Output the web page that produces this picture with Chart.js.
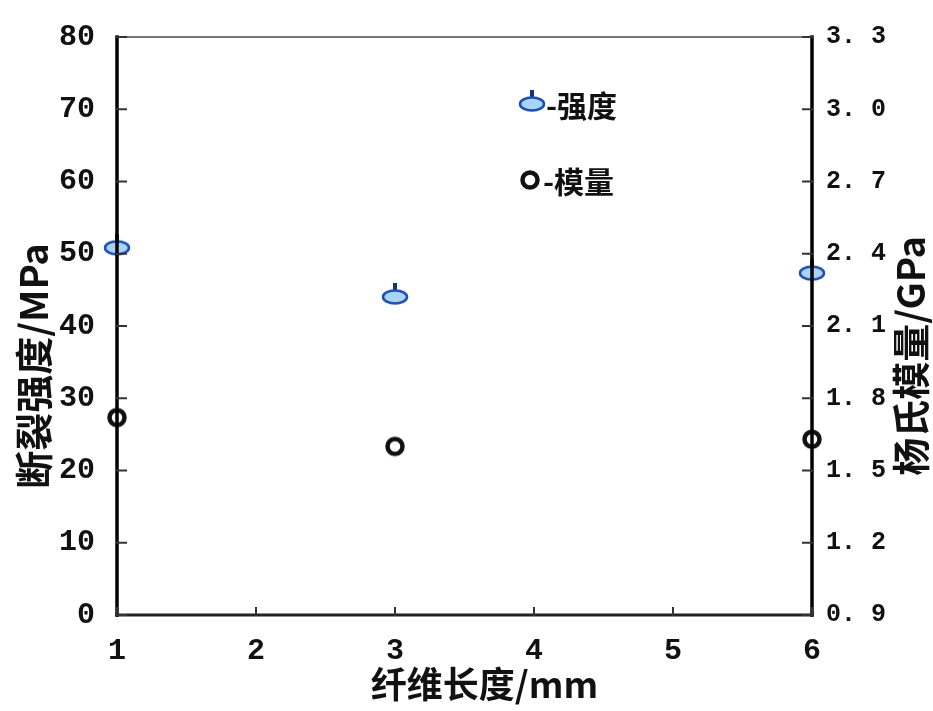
<!DOCTYPE html>
<html><head><meta charset="utf-8">
<script src="https://cdn.jsdelivr.net/npm/chart.js@4"></script>
<style>html,body{margin:0;padding:0;background:#fff}#wrap{width:933px;height:711px}</style>
</head><body><div id="wrap"><canvas id="c" width="933" height="711"></canvas></div>
<script>
const fiberLength = [1, 3, 6];
const strengthMPa = [51.1, 44.3, 47.6];
const modulusGPa = [1.72, 1.60, 1.63];
const xTicks = [1, 2, 3, 4, 5, 6];
const leftTicks = [0, 10, 20, 30, 40, 50, 60, 70, 80];
const rightTicks = [0.9, 1.2, 1.5, 1.8, 2.1, 2.4, 2.7, 3.0, 3.3];
const xTitle = '纤维长度/mm';
const leftTitle = '断裂强度/MPa';
const rightTitle = '杨氏模量/GPa';
const legendLabels = ['-强度', '-模量'];

function strengthMarker(){
  const c = document.createElement('canvas'); c.width = 30; c.height = 28;
  const g = c.getContext('2d');
  g.fillStyle = '#1b2f6e'; g.fillRect(13, 2, 4, 10);
  g.beginPath(); g.ellipse(15, 16, 12, 6.5, 0, 0, Math.PI*2);
  g.fillStyle = '#a8d4f7'; g.fill(); g.lineWidth = 2.5; g.strokeStyle = '#1d4fb0'; g.stroke();
  return c;
}
function modulusMarker(){
  const c = document.createElement('canvas'); c.width = 26; c.height = 26;
  const g = c.getContext('2d');
  g.beginPath(); g.arc(13, 13, 7.5, 0, Math.PI*2);
  g.fillStyle = '#fff'; g.fill(); g.lineWidth = 4.5; g.strokeStyle = '#111'; g.stroke();
  return c;
}
const mS = strengthMarker(), mM = modulusMarker();

const tickFont = {family: '"Liberation Mono", "DejaVu Sans Mono", monospace', size: 30, weight: 'bold'};
const titleFont = 'bold 36px "Noto Sans CJK SC", sans-serif';
const vTitleFont = 'bold 38px "Noto Sans CJK SC", sans-serif';

const decor = {
  id: 'decor',
  afterDraw(chart){
    const {ctx, chartArea: a, scales} = chart;
    ctx.save();
    ctx.lineCap = 'square';
    ctx.strokeStyle = '#777'; ctx.lineWidth = 2;
    ctx.beginPath(); ctx.moveTo(a.left, a.top); ctx.lineTo(a.right, a.top); ctx.stroke();
    ctx.strokeStyle = '#222'; ctx.lineWidth = 3;
    ctx.beginPath(); ctx.moveTo(a.left, a.bottom); ctx.lineTo(a.right, a.bottom); ctx.stroke();
    ctx.strokeStyle = '#000'; ctx.lineWidth = 3.5;
    ctx.beginPath(); ctx.moveTo(a.left, a.top); ctx.lineTo(a.left, a.bottom); ctx.stroke();
    ctx.beginPath(); ctx.moveTo(a.right, a.top); ctx.lineTo(a.right, a.bottom); ctx.stroke();
    ctx.lineWidth = 2; ctx.strokeStyle = '#333';
    scales.y.ticks.forEach(t => { const y = scales.y.getPixelForValue(t.value);
      ctx.beginPath(); ctx.moveTo(a.left, y); ctx.lineTo(a.left + 9, y); ctx.stroke(); });
    scales.y2.ticks.forEach(t => { const y = scales.y2.getPixelForValue(t.value);
      ctx.beginPath(); ctx.moveTo(a.right, y); ctx.lineTo(a.right - 9, y); ctx.stroke(); });
    scales.x.ticks.forEach(t => { const x = scales.x.getPixelForValue(t.value);
      ctx.beginPath(); ctx.moveTo(x, a.bottom); ctx.lineTo(x, a.bottom - 7); ctx.stroke(); });
    ctx.fillStyle = '#111'; ctx.font = titleFont; ctx.textAlign = 'center'; ctx.textBaseline = 'middle';
    ctx.fillText(xTitle, (a.left + a.right) / 2 + 20, 684);
    ctx.font = vTitleFont;
    ctx.save(); ctx.translate(34, 366); ctx.rotate(-Math.PI/2); ctx.fillText(leftTitle, 0, 0); ctx.restore();
    ctx.save(); ctx.translate(911, 356); ctx.rotate(-Math.PI/2); ctx.fillText(rightTitle, 0, 0); ctx.restore();
    ctx.font = 'bold 30px "Noto Sans CJK SC", sans-serif'; ctx.textAlign = 'left';
    ctx.drawImage(mS, 532 - 15, 104 - 16);
    ctx.fillText(legendLabels[0], 546, 106);
    ctx.drawImage(mM, 530 - 13, 180 - 13);
    ctx.fillText(legendLabels[1], 543, 182);
    ctx.restore();
  }
};

new Chart(document.getElementById('c'), {
  type: 'scatter',
  data: {
    datasets: [
      {label: '强度', data: fiberLength.map((x, i) => ({x, y: strengthMPa[i]})), yAxisID: 'y',
       pointStyle: mS, pointRadius: 13, showLine: false},
      {label: '模量', data: fiberLength.map((x, i) => ({x, y: modulusGPa[i]})), yAxisID: 'y2',
       pointStyle: mM, pointRadius: 13, showLine: false}
    ]
  },
  options: {
    responsive: false, animation: false,
    layout: {padding: {top: 37, left: 0, right: 0, bottom: 0}},
    plugins: {legend: {display: false}, tooltip: {enabled: false}},
    clip: false,
    scales: {
      x: {type: 'linear', min: 1, max: 6,
          afterBuildTicks: s => { s.ticks = xTicks.map(v => ({value: v})); },
          afterFit: s => { s.height = 96; },
          grid: {display: false}, border: {display: false},
          ticks: {font: tickFont, color: '#111', padding: 10, maxRotation: 0}},
      y: {type: 'linear', position: 'left', min: 0, max: 80,
          afterBuildTicks: s => { s.ticks = leftTicks.map(v => ({value: v})); },
          afterFit: s => { s.width = 117; },
          grid: {display: false}, border: {display: false},
          ticks: {font: tickFont, color: '#111', padding: 14}},
      y2: {type: 'linear', position: 'right', min: 0.9, max: 3.3,
          afterBuildTicks: s => { s.ticks = rightTicks.map(v => ({value: v})); },
          afterFit: s => { s.width = 121; },
          grid: {display: false}, border: {display: false},
          ticks: {font: {family: tickFont.family, size: 25, weight: 'bold'}, color: '#111', padding: 6,
                  callback: v => v.toFixed(1).replace('.', '. ')}}
    }
  },
  plugins: [decor]
});
</script></body></html>
